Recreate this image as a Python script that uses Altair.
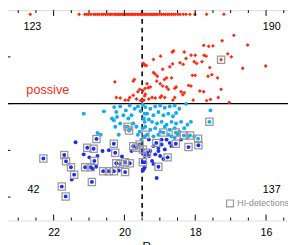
import altair as alt
import pandas as pd

# ---- data ----
red_top_R = [22.66, 21.28, 21.12, 21.06, 21.01, 20.95, 20.87, 20.82, 20.76, 20.71, 20.64, 20.60,
             20.54, 20.49, 20.43, 20.39, 20.35, 20.29, 20.25, 20.21, 20.17, 20.13, 20.09, 20.05,
             20.01, 19.96, 19.92, 19.88, 19.84, 19.80, 19.76, 19.72, 19.68, 19.63, 19.59, 19.55,
             19.51, 19.47, 19.43, 19.39, 19.35, 19.30, 19.26, 19.22, 19.18, 19.14, 19.10, 19.06,
             19.00, 18.95, 18.89, 18.84, 18.78, 18.73, 18.67, 18.62, 18.56, 18.49, 18.43, 18.34,
             18.26, 18.15, 18.01, 17.68, 17.19]
red_top_C = 7.82

red_R = [16.91, 17.24, 16.52, 17.50, 17.62, 17.76, 18.61, 18.65, 17.08, 16.98, 17.27, 18.31,
         18.12, 18.00, 17.75, 17.69, 18.26, 18.98, 19.18, 19.45, 19.38, 17.81, 18.03, 17.96,
         18.43, 18.34, 18.64, 18.72, 17.59, 16.66, 16.01, 18.92, 19.18, 19.13, 19.07, 18.67,
         18.81, 18.87, 18.08, 18.00, 17.64, 17.53, 17.37, 18.19, 18.12, 19.36, 19.09, 18.99,
         18.92, 19.33, 19.27, 19.42, 18.58, 18.54, 18.81, 18.76, 17.87, 17.76, 17.27, 18.40,
         18.31, 18.35, 18.95, 18.86, 18.99, 19.13, 19.41, 19.31, 19.22, 19.45, 18.63, 18.58,
         18.06, 17.68, 17.57, 17.35, 17.04,
         19.47, 19.43, 19.72, 19.75, 20.27, 19.57, 19.48, 19.62, 20.23, 20.12, 19.85, 19.75,
         19.89, 19.66, 19.55, 19.48, 19.43, 19.98]
red_C = [6.92, 6.69, 6.51, 6.47, 6.45, 6.49, 6.25, 6.21, 6.13, 6.00, 5.88, 6.21,
         6.07, 6.07, 6.07, 6.03, 5.93, 6.03, 5.89, 5.70, 5.63, 5.79, 5.79, 5.72,
         5.75, 5.68, 5.70, 5.58, 5.54, 5.51, 5.61, 5.47, 5.33, 5.26, 5.17, 5.10,
         5.10, 5.03, 5.21, 5.21, 5.17, 5.24, 5.10, 4.78, 4.75, 4.85, 4.96, 4.85,
         4.75, 4.68, 4.71, 4.65, 4.65, 4.71, 4.71, 4.61, 4.54, 4.51, 4.61, 4.51,
         4.47, 4.38, 4.33, 4.26, 4.26, 4.24, 4.40, 4.20, 4.26, 4.15, 4.15, 4.26,
         4.15, 4.13, 4.18, 4.26, 4.05,
         5.72, 5.65, 5.03, 4.96, 4.93, 4.61, 4.54, 4.51, 4.26, 4.24, 4.26, 4.36,
         4.15, 4.20, 4.13, 4.13, 4.33, 4.15]

cyan_R = [21.15, 20.58, 20.29, 20.23, 20.12, 19.96, 19.85, 19.71, 19.62, 19.55, 19.48, 19.43,
          20.03, 19.80, 19.89, 20.21, 20.35,
          19.41, 19.27, 19.13, 18.99, 18.86, 18.72, 18.58, 18.45, 18.26, 17.57, 19.36, 19.18,
          19.04, 18.90, 18.76, 18.63, 18.54, 19.45, 19.31,
          19.22, 19.08, 18.95, 18.81, 18.67, 18.54, 18.40, 18.22, 18.12,
          19.41, 19.27, 19.13, 18.99, 18.86, 18.72, 18.58, 18.45, 18.31,
          18.90, 18.55, 18.32, 18.15, 17.92, 17.60,
          19.36, 19.18, 19.04, 18.76, 18.49, 18.22, 18.03, 18.67, 18.58,
          20.30, 20.12, 20.26, 19.98, 19.85, 19.75, 19.66, 19.57, 19.43, 19.48, 20.67, 20.76,
          20.16, 19.91, 19.87, 19.62, 19.43, 19.52]
cyan_C = [3.57, 3.67, 3.85, 3.64, 3.88, 3.71, 3.92, 3.78, 3.88, 3.68, 3.96, 3.57,
          3.50, 3.50, 3.36, 3.43, 3.36,
          3.85, 3.78, 3.88, 3.92, 3.82, 3.88, 3.92, 3.78, 3.99, 3.71, 3.57, 3.50,
          3.64, 3.50, 3.57, 3.46, 3.60, 3.36, 3.32,
          3.22, 3.15, 3.22, 3.10, 3.22, 3.15, 3.22, 3.10, 3.22,
          3.01, 2.88, 2.95, 2.80, 3.01, 2.88, 2.95, 2.80, 2.95,
          2.76, 2.76, 2.64, 2.64, 2.50, 3.22,
          2.67, 2.60, 2.67, 2.67, 2.67, 2.53, 2.60, 2.60, 2.53,
          3.29, 3.15, 3.01, 3.01, 2.88, 3.15, 3.01, 2.80, 3.22, 2.95, 2.67, 2.74,
          2.67, 3.01, 2.85, 2.67, 2.60, 2.46]

blue_R = [19.10, 18.55, 18.19, 17.91, 18.78, 19.04, 19.36,
          19.31, 19.18, 19.04, 18.95, 18.86, 18.72, 18.67, 19.27, 19.13, 18.99, 18.90, 19.22,
          19.41, 19.45, 19.09, 18.40, 18.95, 19.31, 19.18, 18.81, 19.04,
          22.29, 21.70, 21.65, 21.51, 21.42, 21.77, 21.66, 21.05, 20.79, 20.87, 21.11, 20.95,
          20.90, 20.85, 20.80, 20.92, 20.60, 20.44, 20.30, 20.30, 20.26, 20.23, 20.12, 19.98,
          19.85, 20.16, 19.98, 19.75, 19.66, 19.57, 19.48, 19.80, 19.48, 19.43,
          21.38, 21.15, 21.49, 20.62, 20.44, 20.99, 20.76, 20.07, 19.48, 19.43, 19.48]
blue_C = [2.32, 2.28, 2.14, 2.22, 1.70, 1.30, 1.90,
          2.46, 2.18, 2.11, 2.25, 2.04, 2.32, 2.18, 1.97, 1.83, 1.76, 1.63, 1.55,
          1.49, 1.21, 0.82, 2.46, 2.46, 1.76, 1.42, 2.46, 1.97,
          1.65, 1.80, 1.53, 1.28, 0.96, 0.45, 0.03, 2.11, 2.49, 2.07, 1.28, 1.28,
          1.21, 1.55, 1.30, 0.65, 1.11, 1.11, 1.11, 2.28, 1.90, 1.45, 1.42, 1.49,
          1.45, 1.14, 1.07, 2.18, 2.11, 2.25, 2.04, 1.97, 1.90, 1.76,
          2.35, 1.83, 0.75, 1.97, 2.01, 1.70, 1.76, 1.74, 1.49, 1.28, 1.14]

hi_R = [22.29, 21.70, 21.65, 21.51, 21.42, 21.77, 21.66, 21.05, 20.79, 20.87, 21.11, 20.95,
        20.85, 20.92, 20.60, 20.44, 20.30, 20.30, 20.26, 20.23, 20.12, 19.98, 19.85, 19.98,
        19.91, 19.87, 19.75, 19.66, 19.57, 19.48, 19.48,
        19.10, 18.90, 18.55, 18.32, 18.15, 17.92, 18.55, 18.19, 17.91, 18.78, 19.04, 19.36,
        17.60, 19.41, 17.27]
hi_C = [1.65, 1.80, 1.53, 1.28, 0.96, 0.45, 0.03, 2.11, 2.49, 2.07, 1.28, 1.28,
        1.55, 0.65, 1.11, 1.11, 1.11, 2.28, 1.90, 1.45, 1.42, 1.49, 1.45, 1.07,
        3.01, 2.85, 2.18, 2.11, 2.25, 2.04, 1.49,
        2.32, 2.76, 2.76, 2.64, 2.64, 2.50, 2.28, 2.14, 2.22, 1.70, 1.30, 1.90,
        3.22, 2.67, 5.88]

quad_labels = ["123", "190", "42", "137"]
quad_R = [22.60, 15.84, 22.57, 15.84]
quad_C = [7.29, 7.29, 0.29, 0.29]

x_major = [16, 18, 20, 22]
x_minor = [15.5, 16.5, 17, 17.5, 18.5, 19, 19.5, 20.5, 21, 21.5, 22.5, 23]
y_major = [0, 2, 4, 6]
y_minor = [-0.5, 0.5, 1, 1.5, 2.5, 3, 3.5, 4.5, 5, 5.5, 6.5, 7, 7.5]

R_CUT = 19.5
C_CUT = 4.0

# ---- layout ----
W, H = 291, 216
xs = alt.Scale(domain=[23.385, 15.38], nice=False, zero=False)
ys = alt.Scale(domain=[-1, 8], nice=False, zero=False)
FONT = "Liberation Sans"

xax = alt.Axis(values=x_major, ticks=False, domain=False, grid=False, labelFontSize=11,
               labelPadding=6, labelColor="black", title="R", titleFontSize=12,
               titlePadding=4, titleFont=FONT, labelFont=FONT, titleFontWeight="normal")
yax = alt.Axis(values=y_major, ticks=False, domain=False, grid=False, labelFontSize=11,
               labelPadding=3, labelColor="black", title=None, labelFont=FONT)

X = lambda f: alt.X(f, type="quantitative", scale=xs, axis=xax)
Y = lambda f: alt.Y(f, type="quantitative", scale=ys, axis=yax)

LEG = "HI-detections"
df_top = pd.DataFrame({"R": red_top_R, "C": [red_top_C] * len(red_top_R)})
df_red = pd.DataFrame({"R": red_R, "C": red_C})
df_cyan = pd.DataFrame({"R": cyan_R, "C": cyan_C})
df_blue = pd.DataFrame({"R": blue_R, "C": blue_C})
df_hi = pd.DataFrame({"R": hi_R, "C": hi_C, "k": [LEG] * len(hi_R)})
df_q = pd.DataFrame({"R": quad_R, "C": quad_C, "t": quad_labels})

RED = "#ff2a12"
CYAN = "#14aaf0"
BLUE = "#1a2df2"

top = alt.Chart(df_top).mark_point(filled=True, shape="diamond", size=16, color=RED, opacity=1).encode(x=X("R"), y=Y("C"))
red = alt.Chart(df_red).mark_point(filled=True, shape="diamond", size=16, color=RED, opacity=1).encode(x=X("R"), y=Y("C"))
cyan = alt.Chart(df_cyan).mark_circle(size=16, color=CYAN, opacity=1).encode(x=X("R"), y=Y("C"))
blue = alt.Chart(df_blue).mark_circle(size=16, color=BLUE, opacity=1).encode(x=X("R"), y=Y("C"))
hi = alt.Chart(df_hi).mark_point(shape="square", size=55, filled=False, strokeWidth=1.3, opacity=1).encode(
    x=X("R"), y=Y("C"),
    color=alt.Color("k:N", scale=alt.Scale(domain=[LEG], range=["#9a9a9a"]),
                    legend=alt.Legend(orient="none", legendX=227, legendY=194, title=None,
                                      labelFontSize=9, labelColor="#8c8c8c", labelFont=FONT,
                                      symbolType="square", symbolSize=50, symbolStrokeWidth=1.2,
                                      symbolFillColor="transparent", padding=0, labelOffset=3,
                                      labelLimit=200)))

vline = alt.Chart(pd.DataFrame({"R": [R_CUT]})).mark_rule(color="black", strokeWidth=1.6, strokeDash=[5, 4]).encode(x=X("R"))
hline = alt.Chart(pd.DataFrame({"C": [C_CUT]})).mark_rule(color="black", strokeWidth=1.2).encode(y=Y("C"))

quad = alt.Chart(df_q).mark_text(fontSize=11, font=FONT, color="black").encode(x=X("R"), y=Y("C"), text="t:N")
poss = alt.Chart(pd.DataFrame({"R": [22.77], "C": [4.58], "t": ["possive"]})).mark_text(
    fontSize=13, font=FONT, color=RED, align="left").encode(x=X("R"), y=Y("C"), text="t:N")

def xticks(vals, L):
    d = pd.DataFrame({"R": vals})
    b = alt.Chart(d).mark_rule(color="black", strokeWidth=1).encode(x=X("R"), y=alt.value(H), y2=alt.value(H - L))
    t = alt.Chart(d).mark_rule(color="black", strokeWidth=1).encode(x=X("R"), y=alt.value(0), y2=alt.value(L))
    return [b, t]

def yticks(vals, L):
    d = pd.DataFrame({"C": vals})
    return [alt.Chart(d).mark_rule(color="black", strokeWidth=1).encode(y=Y("C"), x=alt.value(0), x2=alt.value(L))]

layers = [vline, hline, top, red, cyan, blue, hi, quad, poss]
layers += xticks(x_major, 6) + xticks(x_minor, 3) + yticks(y_major, 6) + yticks(y_minor, 3)

chart = alt.layer(*layers).properties(
    width=W, height=H,
    autosize=alt.AutoSizeParams(type="none"),
    padding={"left": -3.5, "top": -1, "right": 0, "bottom": 22},
).configure_view(stroke="black", strokeWidth=1.2).configure(background="white")

chart.save("out.html", embed_options={"renderer": "svg", "actions": False})
